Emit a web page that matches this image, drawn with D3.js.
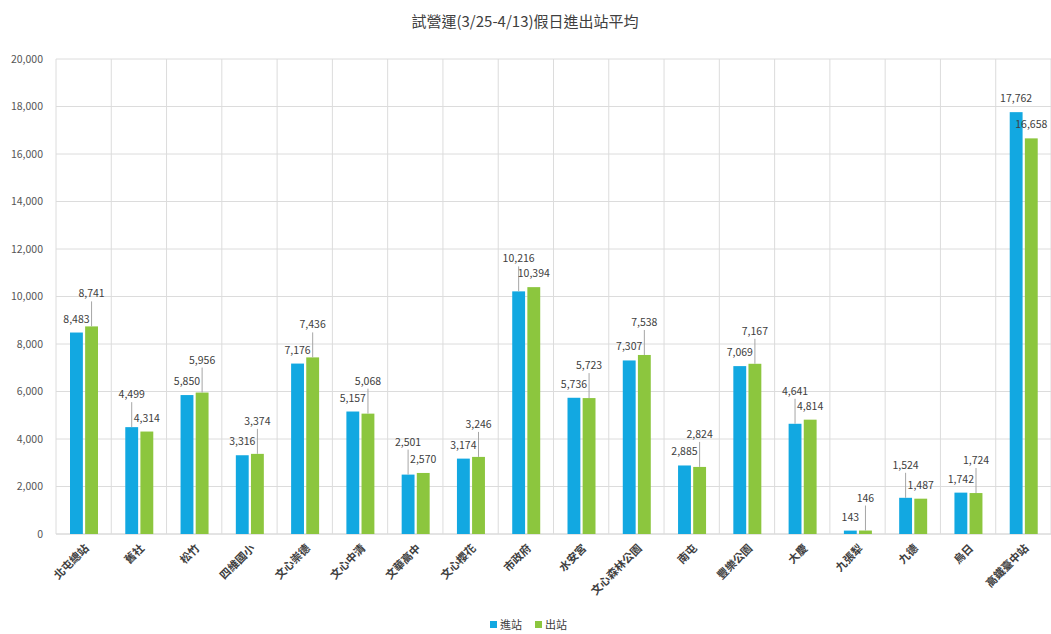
<!DOCTYPE html>
<html>
<head>
<meta charset="utf-8">
<script src="https://cdn.jsdelivr.net/npm/d3@7"></script>
<style>
  body { margin: 0; background: #fff; }
  text { font-family: "Noto Sans CJK TC", "Noto Sans", sans-serif; }
</style>
</head>
<body>
<div id="chart"></div>
<script>
// stations and averages
var stations = ["北屯總站", "舊社", "松竹", "四維國小", "文心崇德", "文心中清", "文華高中", "文心櫻花", "市政府",
    "水安宮", "文心森林公園", "南屯", "豐樂公園", "大慶", "九張犁", "九德", "烏日", "高鐵臺中站"];
var inValues = [8483, 4499, 5850, 3316, 7176, 5157, 2501, 3174, 10216, 5736, 7307, 2885, 7069, 4641, 143, 1524, 1742, 17762];
var outValues = [8741, 4314, 5956, 3374, 7436, 5068, 2570, 3246, 10394, 5723, 7538, 2824, 7167, 4814, 146, 1487, 1724, 16658];
var seriesNames = ["進站", "出站"];
var yTicks = [0, 2000, 4000, 6000, 8000, 10000, 12000, 14000, 16000, 18000, 20000];
// which label of each pair is lifted up with a leader line
var raised = ["out", "in", "out", "out", "out", "out", "in", "out", "in", "out", "out", "out", "out", "in", "out", "in", "out", "none"];

var colors = { "in": "#12a8e1", "out": "#8cc63e" };

var margin = { top: 59, right: 0, bottom: 100, left: 56 },
    width = 1051 - margin.left - margin.right,
    height = 634 - margin.top - margin.bottom;

var svg = d3.select("#chart").append("svg")
    .attr("width", 1051)
    .attr("height", 634);

// title
svg.append("text")
    .attr("x", 525).attr("y", 27)
    .attr("text-anchor", "middle")
    .style("font-size", "15px")
    .style("fill", "#404040")
    .text("試營運(3/25-4/13)假日進出站平均");

var g = svg.append("g")
    .attr("transform", "translate(" + margin.left + "," + margin.top + ")");

var x = d3.scaleBand().domain(stations).range([0, width]).padding(0);
var xSub = d3.scaleBand().domain(["in", "out"]).range([14, 42]).paddingInner(0.15);
var y = d3.scaleLinear().domain([0, 20000]).range([height, 0]);

// horizontal grid
g.selectAll(".hgrid").data(yTicks).enter().append("line")
    .attr("x1", 0).attr("x2", width)
    .attr("y1", function (d) { return y(d); })
    .attr("y2", function (d) { return y(d); })
    .style("stroke", function (d) { return d == 0 ? "#c8c8c8" : "#dcdcdc"; })
    .style("stroke-width", 1);

// vertical grid at category edges
var edges = stations.map(function (s) { return x(s); });
edges.push(width);
g.selectAll(".vgrid").data(edges).enter().append("line")
    .attr("x1", function (d) { return d; }).attr("x2", function (d) { return d; })
    .attr("y1", 0).attr("y2", height)
    .style("stroke", "#dcdcdc")
    .style("stroke-width", 1);

// y axis labels
var yAxis = g.append("g")
    .call(d3.axisLeft(y).tickValues(yTicks).tickSize(0).tickPadding(13).tickFormat(d3.format(",")));
yAxis.select(".domain").remove();
yAxis.selectAll("text").style("font-size", "10.5px").style("fill", "#555");

// build flat list of bars
var bars = [];
for (var i = 0; i < stations.length; i++) {
    bars.push({ station: stations[i], key: "in", value: inValues[i], raised: raised[i] == "in" });
    bars.push({ station: stations[i], key: "out", value: outValues[i], raised: raised[i] == "out" });
}

g.selectAll(".bar").data(bars).enter().append("rect")
    .attr("x", function (d) { return x(d.station) + xSub(d.key); })
    .attr("y", function (d) { return y(d.value); })
    .attr("width", xSub.bandwidth())
    .attr("height", function (d) { return height - y(d.value); })
    .style("fill", function (d) { return colors[d.key]; });

// leader lines
g.selectAll(".leader").data(bars.filter(function (d) { return d.raised; })).enter().append("line")
    .attr("x1", function (d) { return x(d.station) + xSub(d.key) + xSub.bandwidth() / 2; })
    .attr("x2", function (d) { return x(d.station) + xSub(d.key) + xSub.bandwidth() / 2; })
    .attr("y1", function (d) { return y(d.value); })
    .attr("y2", function (d) { return y(d.value) - 25; })
    .style("stroke", "#a6a6a6")
    .style("stroke-width", 1);

// value labels
g.selectAll(".vlabel").data(bars).enter().append("text")
    .attr("x", function (d) { return x(d.station) + xSub(d.key) + xSub.bandwidth() / 2; })
    .attr("y", function (d) { return y(d.value) - (d.raised ? 29 : 10); })
    .attr("text-anchor", "middle")
    .style("font-size", "10.5px")
    .style("fill", "#404040")
    .text(function (d) { return d3.format(",")(d.value); });

// x labels, rotated
g.selectAll(".xlabel").data(stations).enter().append("text")
    .attr("transform", function (d) {
        return "translate(" + (x(d) + x.bandwidth() / 2 + 6) + "," + (height + 15) + ") rotate(-45)";
    })
    .attr("text-anchor", "end")
    .style("font-size", "11px")
    .style("font-weight", "bold")
    .style("fill", "#404040")
    .text(function (d) { return d; });

// legend
var legend = svg.append("g").attr("transform", "translate(490,620)");
var lx = [0, 45];
for (var k = 0; k < 2; k++) {
    legend.append("rect").attr("x", lx[k]).attr("y", 1).attr("width", 7).attr("height", 7)
        .style("fill", colors[["in", "out"][k]]);
    legend.append("text").attr("x", lx[k] + 10).attr("y", 9)
        .style("font-size", "11px").style("fill", "#404040")
        .text(seriesNames[k]);
}
</script>
</body>
</html>
